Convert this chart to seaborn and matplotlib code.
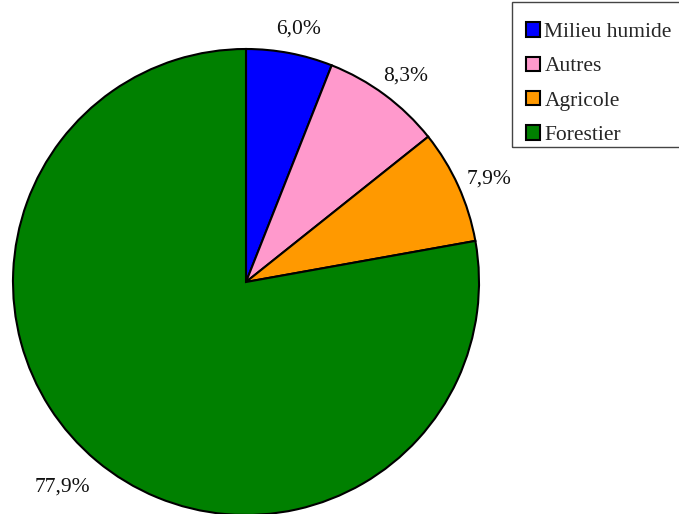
import matplotlib
matplotlib.use("Agg")
import matplotlib.pyplot as plt
import matplotlib.patches as mpatches
import matplotlib.transforms as mtransforms
import seaborn as sns

# data
categories = ['Milieu humide', 'Autres', 'Agricole', 'Forestier']
shares = [6.0, 8.3, 7.9, 77.9]
colors = ['#0000FF', '#FF99CC', '#FF9900', '#008000']
pct_labels = [f"{v:.1f}%".replace('.', ',') for v in shares]

sns.set_style('white')
plt.rcParams['font.family'] = ['Liberation Serif', 'DejaVu Serif']

fig = plt.figure(figsize=(6.79, 5.14), dpi=100)
ax = fig.add_axes([13 / 679, 1 - 515 / 514, 466 / 679, 466 / 514])

wedges, texts = ax.pie(shares, colors=colors, startangle=90, counterclock=False,
                       labels=pct_labels, labeldistance=1.13, radius=1,
                       wedgeprops=dict(edgecolor='black', linewidth=1.5),
                       textprops=dict(fontsize=15.5, color='#111111'))
# nudge labels slightly, as in the original
shift = mtransforms.ScaledTranslation(3 / 100, -6 / 100, fig.dpi_scale_trans)
for t in texts:
    t.set_ha('center')
    t.set_va('center')
    t.set_transform(t.get_transform() + shift)
texts[-1].set_transform(ax.transData + mtransforms.ScaledTranslation(-15 / 100, -3 / 100, fig.dpi_scale_trans))
ax.set_xlim(-1, 1)
ax.set_ylim(-1, 1)
ax.set_aspect('equal')
ax.axis('off')

# legend without its own frame, box drawn separately
handles = [mpatches.Patch(facecolor=c, edgecolor='black', linewidth=1.5) for c in colors]
leg = fig.legend(handles, categories, loc='upper left',
                 bbox_to_anchor=(510 / 679, 1 - 6 / 514), fontsize=15.5,
                 frameon=False,
                 handlelength=0.65, handleheight=0.65, handletextpad=0.2,
                 labelspacing=0.68, borderpad=0.75, borderaxespad=0)
frame = mpatches.Rectangle((512 / 679, 1 - 147 / 514), 170 / 679, 145 / 514,
                           transform=fig.transFigure, facecolor='none',
                           edgecolor='#444444', linewidth=1.0)
fig.patches.append(frame)

fig.savefig('out.png', dpi=100)
